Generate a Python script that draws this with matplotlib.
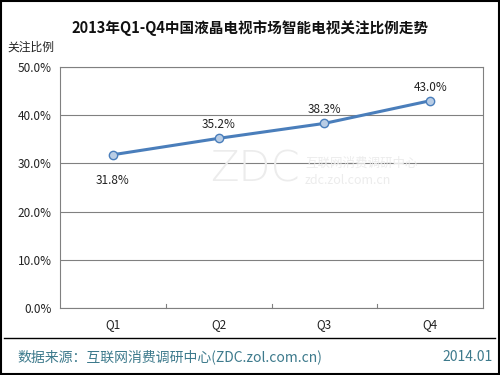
import matplotlib
matplotlib.use("Agg")
import matplotlib.pyplot as plt
from matplotlib.patches import Rectangle
from matplotlib.lines import Line2D

plt.rcParams['font.family'] = ['Noto Sans CJK SC', 'DejaVu Sans']

categories = ["Q1", "Q2", "Q3", "Q4"]
values = [31.8, 35.2, 38.3, 43.0]
labels = ["31.8%", "35.2%", "38.3%", "43.0%"]
yticks = [0, 10, 20, 30, 40, 50]
ytick_labels = ["0.0%", "10.0%", "20.0%", "30.0%", "40.0%", "50.0%"]

fig = plt.figure(figsize=(5, 3.75), dpi=100)
ax = fig.add_axes([0.12, 0.1787, 0.846, 0.6426])

x = list(range(len(categories)))
ax.plot(x, values, color="#4A7EBB", linewidth=2.2, marker="o", markersize=6,
        markerfacecolor="#B9CDE5", markeredgecolor="#4A7EBB", markeredgewidth=1.0, zorder=3)

for i, (v, lab) in enumerate(zip(values, labels)):
    if i == 0:
        ax.annotate(lab, (i, v), xytext=(0, -14), textcoords="offset points",
                    ha="center", va="top", fontsize=8.5, color="#222222")
    else:
        ax.annotate(lab, (i, v), xytext=(0, 5), textcoords="offset points",
                    ha="center", va="bottom", fontsize=8.5, color="#222222")

ax.set_xlim(-0.5, len(categories) - 0.5)
ax.set_ylim(0, 50)
ax.set_yticks(yticks)
ax.set_yticklabels(ytick_labels, fontsize=8.5, color="#222222")
ax.set_xticks(x)
ax.set_xticklabels(categories, fontsize=8.5, color="#222222")
ax.tick_params(axis="x", length=0, pad=7)
ax.tick_params(axis="y", length=0, pad=6)
for b in [0.5, 1.5, 2.5]:
    ax.plot([b, b], [0, 0.8], color="#808080", linewidth=0.8, clip_on=False)
ax.yaxis.grid(True, color="#808080", linewidth=0.8)
ax.set_axisbelow(True)
for s in ax.spines.values():
    s.set_color("#808080")
    s.set_linewidth(0.8)

# watermark
fig.text(0.51, 0.55, "ZDC", fontsize=30, color="#ececec", ha="center", va="center",
         family="DejaVu Sans", fontweight="light", zorder=0)
fig.text(0.61, 0.565, "互联网消费调研中心", fontsize=9, color="#ececec", ha="left", va="center", zorder=0)
fig.text(0.61, 0.52, "zdc.zol.com.cn", fontsize=9, color="#ececec", ha="left", va="center", zorder=0)

fig.text(0.5, 0.925, "2013年Q1-Q4中国液晶电视市场智能电视关注比例走势", fontsize=10.5,
         fontweight="bold", ha="center", va="center", color="#111111")
fig.text(0.014, 0.875, "关注比例", fontsize=8.5, ha="left", va="center", color="#222222")

fig.add_artist(Line2D([0.008, 0.99], [0.099, 0.099], color="black", linewidth=1.0,
                      transform=fig.transFigure))
fig.text(0.035, 0.048, "数据来源：互联网消费调研中心(ZDC.zol.com.cn)", fontsize=10,
         ha="left", va="center", color="#3D7A8C")
fig.text(0.985, 0.048, "2014.01", fontsize=10, ha="right", va="center", color="#3D7A8C")

fig.add_artist(Rectangle((0.002, 0.003), 0.996, 0.994, fill=False, edgecolor="black",
                         linewidth=1.5, transform=fig.transFigure))

fig.savefig("out.png", dpi=100)
